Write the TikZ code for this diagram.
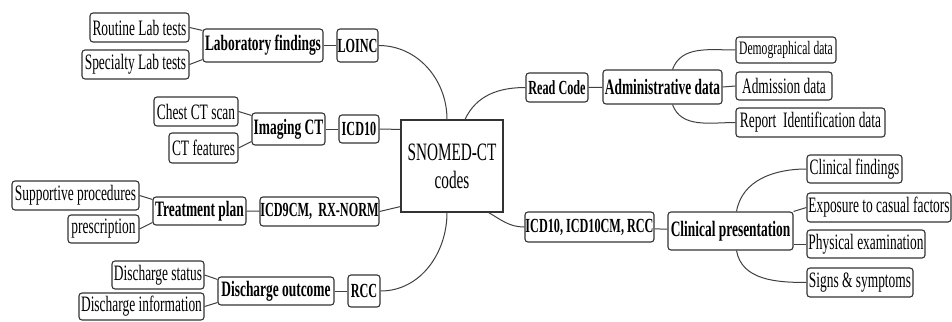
\documentclass[tikz,border=0pt]{standalone}
\usepackage{fontspec}
\setmainfont{Liberation Serif}[FakeStretch=0.61]
\usepackage{tikz}
\usetikzlibrary{positioning}
\tikzset{
  leaf/.style={draw=black!80, line width=1.1pt, rounded corners=3pt, inner sep=0pt,
    font=\fontsize{22}{24}\selectfont},
  topic/.style={leaf, font=\fontsize{22}{24}\selectfont\bfseries},
  codebox/.style={leaf, font=\fontsize{20}{22}\selectfont\bfseries},
  link/.style={draw=black!75, line width=1pt},
}

\begin{document}
\begin{tikzpicture}[x=1pt, y=1pt]
  \useasboundingbox (0,0) rectangle (952,-321);

  \node[draw=black!80, line width=1.1pt, inner sep=0pt, minimum width=102, minimum height=92,
    align=center, font=\fontsize{25}{28}\selectfont] (snomed) at (452,-166) {SNOMED-CT\\codes};

  \node[leaf, minimum width=99, minimum height=29] (routine) at (139.5,-27.5) {Routine Lab tests};
  \node[leaf, minimum width=107, minimum height=29] (specialty) at (135.5,-64.5) {Specialty Lab tests};
  \node[topic, minimum width=120, minimum height=33] (labfind) at (263,-45.5) {Laboratory findings};
  \node[codebox, minimum width=41, minimum height=33] (loinc) at (357.5,-45.5) {LOINC};

  \node[leaf, minimum width=84, minimum height=29] (chestct) at (196,-111.5) {Chest CT scan};
  \node[leaf, minimum width=69, minimum height=30] (ctfeat) at (203.5,-148) {CT features};
  \node[topic, minimum width=73, minimum height=32] (imaging) at (288.5,-129) {Imaging CT};
  \node[codebox, minimum width=40, minimum height=28] (icdten) at (359,-129) {ICD10};

  \node[leaf, minimum width=127, minimum height=29] (supproc) at (75.5,-195.5) {Supportive procedures};
  \node[leaf, minimum width=71, minimum height=28] (prescr) at (103.5,-229) {prescription};
  \node[topic, minimum width=93, minimum height=28] (tplan) at (199.5,-211) {Treatment plan};
  \node[codebox, minimum width=119, minimum height=29] (icdnine) at (319.5,-211.5) {ICD9CM,\ \ RX-NORM};

  \node[leaf, minimum width=92, minimum height=28] (dstatus) at (158,-275) {Discharge status};
  \node[leaf, minimum width=125, minimum height=27] (dinfo) at (141.5,-306.5) {Discharge information};
  \node[topic, minimum width=116, minimum height=28] (doutcome) at (276,-291) {Discharge outcome};
  \node[codebox, minimum width=32, minimum height=32] (rcc) at (364,-291) {RCC};

  \node[codebox, minimum width=62, minimum height=29] (readcode) at (557,-87.5) {Read Code};
  \node[topic, minimum width=119, minimum height=34] (admin) at (662.5,-87) {Administrative data};
  \node[leaf, minimum width=100, minimum height=26, font=\fontsize{19}{21}\selectfont] (demog) at (786,-50) {Demographical data};
  \node[leaf, minimum width=96, minimum height=28] (admission) at (784,-86) {Admission data};
  \node[leaf, minimum width=149, minimum height=29] (report) at (810.5,-122.5) {Report\ \ Identification data};

  \node[codebox, minimum width=129, minimum height=30] (icdcm) at (589.5,-227) {ICD10, ICD10CM, RCC};
  \node[topic, minimum width=125, minimum height=38] (clinpres) at (730.5,-231) {Clinical presentation};
  \node[leaf, minimum width=95, minimum height=28] (clinfind) at (854.5,-169) {Clinical findings};
  \node[leaf, minimum width=144, minimum height=29] (exposure) at (879,-207.5) {Exposure to casual factors};
  \node[leaf, minimum width=118, minimum height=28] (physexam) at (866,-244) {Physical examination};
  \node[leaf, minimum width=106, minimum height=29] (signs) at (860,-282.5) {Signs \& symptoms};

  \draw[link] (routine.east) -- ([yshift=-2pt]labfind.north west);
  \draw[link] (specialty.east) -- ([yshift=3pt]labfind.south west);
  \draw[link] (labfind) -- (loinc);
  \draw[link] (loinc.east) to[out=0, in=90] ([xshift=-5pt]snomed.north);

  \draw[link] (chestct.east) -- ([yshift=-3pt]imaging.north west);
  \draw[link] (ctfeat.east) -- ([yshift=4pt]imaging.south west);
  \draw[link] (imaging) -- (icdten);
  \draw[link] (icdten.east) -- ([yshift=-10pt]snomed.north west);

  \draw[link] (supproc.east) -- ([yshift=-3pt]tplan.north west);
  \draw[link] (prescr.east) -- ([yshift=3pt]tplan.south west);
  \draw[link] (tplan) -- (icdnine);
  \draw[link] (icdnine.east) -- ([yshift=6pt]snomed.south west);

  \draw[link] (dstatus.east) -- ([yshift=-3pt]doutcome.north west);
  \draw[link] (dinfo.east) -- ([yshift=3pt]doutcome.south west);
  \draw[link] (doutcome) -- (rcc);
  \draw[link] (rcc.east) to[out=0, in=-90] ([xshift=-5pt]snomed.south);

  \draw[link] (readcode.west) to[out=180, in=65] ([xshift=13pt]snomed.north);
  \draw[link] (readcode) -- (admin);
  \draw[link] ([xshift=10pt]admin.north) to[out=70, in=180] (demog.west);
  \draw[link] (admin.east) -- (admission.west);
  \draw[link] ([xshift=10pt]admin.south) to[out=-70, in=180] (report.west);

  \draw[link] (icdcm.west) to[out=180, in=-30] ([xshift=-15pt]snomed.south east);
  \draw[link] (icdcm) -- (clinpres);
  \draw[link] ([xshift=6pt]clinpres.north) to[out=80, in=180] (clinfind.west);
  \draw[link] (clinpres.north east) -- (exposure.west);
  \draw[link] (physexam.west) -- (physexam.west -| clinpres.east);
  \draw[link] ([xshift=6pt]clinpres.south) to[out=-80, in=180] (signs.west);
\end{tikzpicture}
\end{document}
